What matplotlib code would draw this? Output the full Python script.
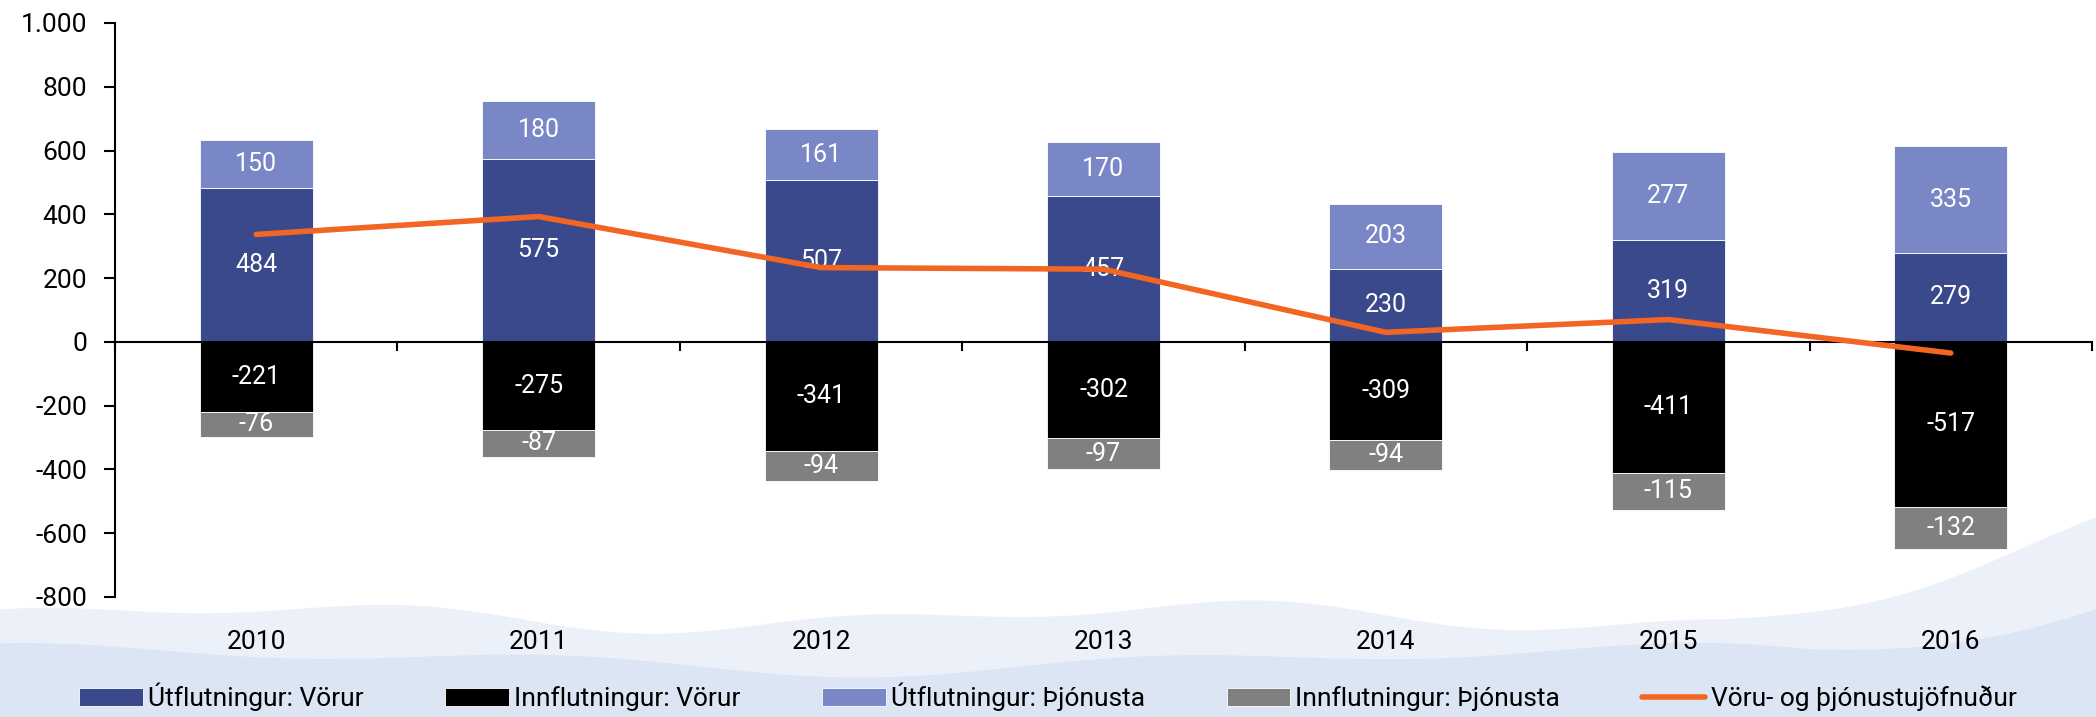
import matplotlib
matplotlib.use("Agg")
import matplotlib.pyplot as plt
import numpy as np
from matplotlib.ticker import FuncFormatter

years = ["2010", "2011", "2012", "2013", "2014", "2015", "2016"]
utfl_vorur = [484, 575, 507, 457, 230, 319, 279]
utfl_thjon = [150, 180, 161, 170, 203, 277, 335]
innfl_vorur = [-221, -275, -341, -302, -309, -411, -517]
innfl_thjon = [-76, -87, -94, -97, -94, -115, -132]
jofnudur = [337, 393, 233, 228, 30, 70, -35]

C_DARK = "#3a488c"
C_LIGHT = "#7a87c7"
C_BLACK = "#000000"
C_GREY = "#808080"
C_ORANGE = "#f26522"

plt.rcParams['font.family'] = ['Roboto', 'DejaVu Sans']

fig = plt.figure(figsize=(20.96, 7.17), dpi=100)

# subtle background wave decoration
bg = fig.add_axes([0, 0, 1, 1], zorder=-10)
bg.set_xlim(0, 1); bg.set_ylim(0, 1); bg.axis("off")
xs = np.linspace(0, 1, 400)
wave1 = 0.14 + 0.015 * np.sin(xs * 14) + 0.01 * np.cos(xs * 31)
wave1 = np.where(xs > 0.82, wave1 + (xs - 0.82) ** 1.5 * 1.5, wave1)
bg.fill_between(xs, 0, wave1, color="#e3eaf7", alpha=0.7, lw=0)
wave2 = 0.08 + 0.015 * np.sin(xs * 9 + 1) + 0.01 * np.cos(xs * 23)
wave2 = np.where(xs > 0.86, wave2 + (xs - 0.86) ** 1.5 * 1.6, wave2)
bg.fill_between(xs, 0, wave2, color="#d3def2", alpha=0.6, lw=0)

ax = fig.add_axes([115 / 2096, 1 - 597 / 717, (2092 - 115) / 2096, (597 - 23) / 717])
ax.patch.set_alpha(0)

x = np.arange(len(years))
w = 0.40
ax.bar(x, utfl_vorur, w, color=C_DARK, label="Útflutningur: Vörur", zorder=2,
       edgecolor="white", linewidth=0.6)
ax.bar(x, innfl_vorur, w, color=C_BLACK, label="Innflutningur: Vörur", zorder=2,
       edgecolor="white", linewidth=0.6)
ax.bar(x, utfl_thjon, w, bottom=utfl_vorur, color=C_LIGHT, label="Útflutningur: Þjónusta",
       zorder=2, edgecolor="white", linewidth=0.6)
ax.bar(x, innfl_thjon, w, bottom=innfl_vorur, color=C_GREY, label="Innflutningur: Þjónusta",
       zorder=2, edgecolor="white", linewidth=0.6)
ax.plot(x, jofnudur, color=C_ORANGE, lw=4, solid_capstyle="round",
        label="Vöru- og þjónustujöfnuður", zorder=4)

fs_lab = 18
for i in range(len(years)):
    ax.text(x[i], utfl_vorur[i] / 2, str(utfl_vorur[i]), ha="center", va="center",
            color="white", fontsize=fs_lab, zorder=3)
    ax.text(x[i], utfl_vorur[i] + utfl_thjon[i] / 2, str(utfl_thjon[i]), ha="center",
            va="center", color="white", fontsize=fs_lab, zorder=3)
    ax.text(x[i], innfl_vorur[i] / 2, str(innfl_vorur[i]), ha="center", va="center",
            color="white", fontsize=fs_lab, zorder=3)
    ax.text(x[i], innfl_vorur[i] + innfl_thjon[i] / 2, str(innfl_thjon[i]), ha="center",
            va="center", color="white", fontsize=fs_lab, zorder=3)

ax.set_xlim(-0.5, len(years) - 0.5)
ax.set_ylim(-800, 1000)
ax.set_yticks(np.arange(-800, 1001, 200))
ax.yaxis.set_major_formatter(FuncFormatter(lambda v, p: f"{int(v):,}".replace(",", ".")))
ax.tick_params(axis="y", labelsize=19, length=8, width=1.5, pad=12)

for s in ["top", "right", "bottom"]:
    ax.spines[s].set_visible(False)
ax.spines["left"].set_linewidth(1.5)

# zero line with category boundary ticks
ax.axhline(0, color="black", lw=1.5, zorder=3)
for b in np.arange(-0.5, len(years), 1.0):
    ax.plot([b, b], [0, -25], color="black", lw=1.5, zorder=3, clip_on=False)

ax.set_xticks(x)
ax.set_xticklabels(years)
ax.tick_params(axis="x", length=0, labelsize=19, pad=24)

handles, labels = ax.get_legend_handles_labels()
hmap = dict(zip(labels, handles))
leg_labels = ["Útflutningur: Vörur", "Innflutningur: Vörur", "Útflutningur: Þjónusta",
              "Innflutningur: Þjónusta", "Vöru- og þjónustujöfnuður"]
fig.legend([hmap[l] for l in leg_labels], leg_labels, loc="center",
           bbox_to_anchor=(0.5, 1 - 697 / 717), ncol=5, frameon=False, fontsize=19,
           handlelength=2.4, handletextpad=0.2, columnspacing=3.1)

fig.savefig("out.png", dpi=100)
